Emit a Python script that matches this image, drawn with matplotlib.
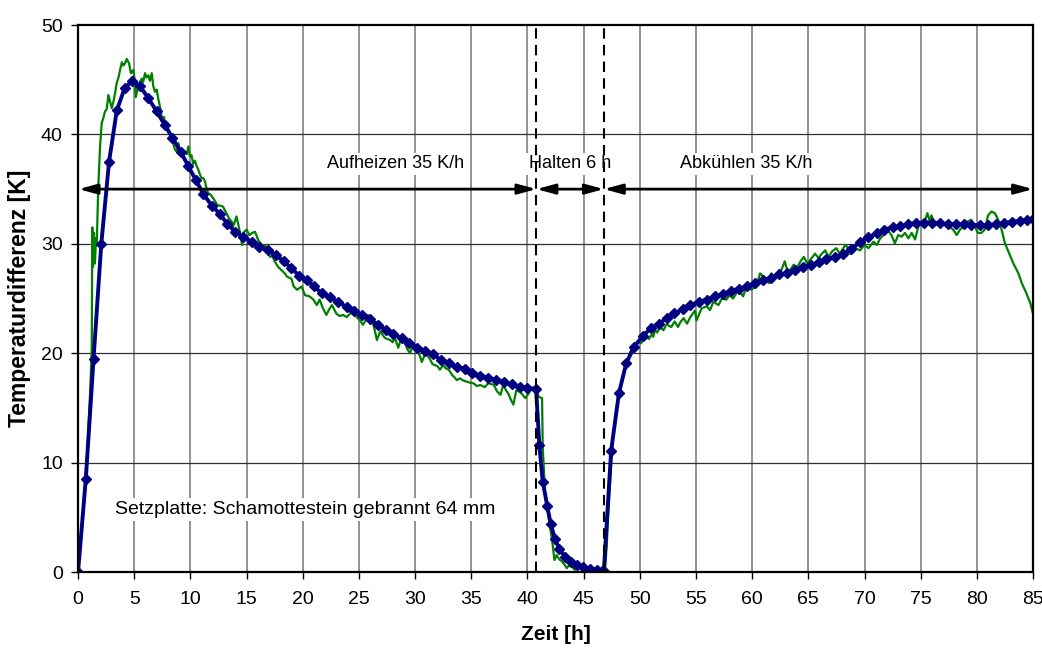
import matplotlib
matplotlib.use("Agg")
import matplotlib.pyplot as plt

plt.rcParams['font.family'] = ['Liberation Sans', 'DejaVu Sans']

# Phase boundaries [h] and the label row height [K]
t_hold_start = 40.8
t_hold_end = 46.8
phase_y = 35

x_ticks = [0, 5, 10, 15, 20, 25, 30, 35, 40, 45, 50, 55, 60, 65, 70, 75, 80, 85]
y_ticks = [0, 10, 20, 30, 40, 50]

# Calculated temperature difference (t [h], dT [K])
calc_heating = [
    (0, 0), (0.69, 8.5), (1.38, 19.5), (2.07, 30.0), (2.76, 37.5), (3.45, 42.2),
    (4.14, 44.2), (4.84, 44.9), (5.52, 44.4), (6.26, 43.3), (7.0, 42.1), (7.7, 40.9),
    (8.4, 39.7), (9.14, 38.4), (9.82, 37.1), (10.5, 35.8), (11.15, 34.55), (11.9, 33.5),
    (12.64, 32.7), (13.3, 31.8), (14.0, 31.1), (14.7, 30.6), (15.46, 30.2), (16.14, 29.7),
    (16.88, 29.4), (17.6, 29.0), (18.3, 28.4), (18.96, 27.8), (19.67, 27.1), (20.35, 26.7),
    (21.0, 26.1), (21.7, 25.5), (22.43, 25.1), (23.17, 24.65), (23.9, 24.25), (24.6, 23.86),
    (25.3, 23.5), (26.0, 23.1), (26.7, 22.6), (27.4, 22.1), (28.06, 21.8), (28.8, 21.35),
    (29.5, 20.96), (30.2, 20.5), (30.9, 20.2), (31.57, 19.9), (32.3, 19.4), (33.0, 19.07),
    (33.7, 18.77), (34.4, 18.55), (35.1, 18.2), (35.8, 17.94), (36.5, 17.76), (37.2, 17.55),
    (37.9, 17.34), (38.6, 17.16), (39.3, 16.94), (40.0, 16.85), (40.77, 16.7),
]
calc_holding = [
    (41.06, 11.6), (41.36, 8.25), (41.77, 6.0), (42.07, 4.4), (42.46, 3.0), (42.84, 2.1),
    (43.35, 1.4), (43.85, 0.94), (44.4, 0.64), (44.97, 0.43), (45.57, 0.27), (46.17, 0.18),
    (46.6, 0.12), (46.8, 0.1),
]
calc_cooling = [
    (47.45, 11.1), (48.15, 16.4), (48.8, 19.1), (49.5, 20.6), (50.26, 21.57), (50.97, 22.27),
    (51.7, 22.7), (52.4, 23.2), (53.07, 23.65), (53.8, 24.0), (54.5, 24.4), (55.27, 24.7),
    (55.96, 24.9), (56.7, 25.2), (57.4, 25.4), (58.1, 25.7), (58.86, 25.9), (59.5, 26.1),
    (60.26, 26.4), (61.0, 26.7), (61.7, 26.9), (62.4, 27.2), (63.1, 27.3), (63.8, 27.6),
    (64.5, 27.85), (65.2, 28.06), (65.95, 28.3), (66.6, 28.6), (67.4, 28.8), (68.06, 29.04),
    (68.8, 29.5), (69.6, 30.15), (70.35, 30.6), (71.1, 30.96), (71.77, 31.3), (72.5, 31.5),
    (73.2, 31.6), (73.9, 31.8), (74.6, 31.9), (75.3, 31.94), (76.0, 31.94), (76.7, 31.9),
    (77.4, 31.8), (78.1, 31.8), (78.86, 31.8), (79.5, 31.7), (80.3, 31.7), (81.0, 31.7),
    (81.7, 31.8), (82.4, 31.9), (83.1, 32.0), (83.8, 32.1), (84.5, 32.2), (85.0, 32.25),
]

# Measured temperature difference (t [h], dT [K])
meas_heating = [
    (0, 0), (0.4, 4.5), (0.8, 10.5), (1.1, 17.0), (1.22, 20.5), (1.27, 31.5), (1.33, 27.9),
    (1.42, 31.0), (1.5, 28.2), (1.6, 30.5), (1.66, 29.8), (1.8, 35.2), (1.96, 38.9),
    (2.1, 41.0), (2.25, 41.5), (2.4, 42.1), (2.55, 42.3), (2.7, 43.6), (2.85, 43.0),
    (3.0, 42.4), (3.15, 43.0), (3.3, 43.8), (3.44, 44.7), (3.6, 45.2), (3.74, 45.9),
    (3.9, 46.6), (4.05, 46.3), (4.18, 46.5), (4.33, 46.9), (4.54, 46.5), (4.7, 45.6),
    (4.92, 45.9), (5.05, 44.9), (5.13, 43.4), (5.37, 44.4), (5.52, 44.8), (5.67, 45.1),
    (5.8, 44.8), (5.96, 45.6), (6.1, 45.2), (6.26, 45.4), (6.4, 44.9), (6.56, 45.6),
    (6.7, 44.4), (6.85, 43.9), (7.0, 44.1), (7.15, 43.2), (7.3, 42.5), (7.5, 41.3),
    (7.65, 41.6), (7.8, 40.7), (8.0, 40.5), (8.2, 40.1), (8.4, 39.4), (8.63, 38.6),
    (8.8, 38.4), (8.93, 39.2), (9.08, 38.5), (9.23, 38.7), (9.38, 38.0), (9.52, 38.4),
    (9.68, 38.2), (9.82, 38.9), (9.95, 38.0), (10.1, 38.1), (10.25, 37.3), (10.4, 37.6),
    (10.56, 37.1), (10.7, 36.8), (10.86, 36.3), (11.0, 36.0), (11.15, 36.0), (11.3, 35.7),
    (11.45, 35.0), (11.6, 34.6), (11.8, 34.5), (12.0, 34.2), (12.2, 33.9), (12.4, 33.5),
    (12.64, 33.5), (12.9, 33.4), (13.05, 33.1), (13.2, 32.8), (13.45, 32.3), (13.7, 32.0),
    (13.8, 31.6), (13.95, 32.0), (14.1, 32.5), (14.3, 31.6), (14.45, 30.8), (14.6, 29.9),
    (14.7, 31.0), (15.0, 31.3), (15.25, 30.8), (15.5, 31.0), (15.75, 31.1), (16.05, 30.3),
    (16.3, 30.0), (16.5, 29.7), (16.7, 29.9), (16.85, 29.2), (17.1, 28.8), (17.3, 28.9),
    (17.5, 28.4), (17.8, 27.9), (18.1, 27.6), (18.4, 27.3), (18.6, 27.0), (19.0, 26.8),
    (19.2, 26.1), (19.5, 25.8), (19.9, 26.1), (20.2, 25.3), (20.6, 25.2), (20.95, 24.9),
    (21.25, 24.4), (21.5, 24.9), (21.8, 24.1), (22.1, 23.5), (22.35, 24.0), (22.6, 24.4),
    (23.0, 23.6), (23.3, 23.4), (23.6, 23.5), (23.9, 23.3), (24.2, 23.6), (24.5, 24.1),
    (24.8, 23.3), (25.1, 23.0), (25.35, 22.6), (25.55, 22.9), (25.8, 23.5), (26.05, 22.9),
    (26.3, 22.6), (26.6, 21.2), (26.9, 22.0), (27.1, 21.7), (27.3, 21.4), (27.55, 21.3),
    (27.8, 21.2), (28.0, 21.0), (28.2, 21.4), (28.5, 20.5), (28.8, 21.5), (29.1, 20.9),
    (29.3, 20.4), (29.55, 20.0), (29.85, 20.9), (30.05, 20.5), (30.3, 20.1), (30.6, 19.2),
    (30.9, 20.0), (31.1, 19.8), (31.3, 19.5), (31.55, 19.0), (31.8, 18.9), (32.0, 18.8),
    (32.2, 18.5), (32.5, 18.9), (32.75, 18.6), (33.0, 18.5), (33.3, 18.0), (33.5, 17.8),
    (33.7, 17.55), (34.0, 17.7), (34.3, 17.5), (34.6, 17.4), (34.9, 17.3), (35.2, 17.25),
    (35.5, 17.0), (35.8, 17.1), (36.0, 17.0), (36.2, 16.9), (36.5, 17.25), (36.75, 17.2),
    (37.0, 17.1), (37.3, 16.5), (37.6, 16.2), (37.85, 17.1), (38.1, 16.6), (38.3, 16.3),
    (38.5, 15.8), (38.75, 15.3), (39.0, 16.6), (39.25, 16.5), (39.5, 16.3), (39.8, 15.9),
    (40.1, 16.3), (40.4, 16.8), (40.7, 16.9), (41.0, 16.0), (41.3, 15.9),
]
meas_holding = [
    (41.36, 11.45), (41.57, 7.2), (41.72, 6.0), (41.87, 5.05), (42.05, 3.8), (42.2, 2.9),
    (42.4, 1.1), (42.6, 1.55), (42.75, 1.3), (42.9, 1.1), (43.05, 1.0), (43.2, 0.8),
    (43.35, 0.6), (43.5, 0.35), (43.7, 0.6), (43.95, 0.5), (44.2, 0.2), (44.45, 0.45),
    (44.7, 0.35), (45.0, 0.15), (45.3, 0.2), (45.6, 0.1), (45.9, 0.05), (46.2, 0.15),
    (46.5, 0.05), (46.9, 0.2),
]
meas_cooling = [
    (47.05, 2.3), (47.2, 5.5), (47.35, 8.1), (47.5, 10.6), (47.65, 12.7), (47.8, 14.0),
    (47.95, 15.1), (48.15, 16.2), (48.4, 17.25), (48.5, 18.0), (48.7, 18.6), (49.0, 19.4),
    (49.1, 20.0), (49.4, 20.6), (49.65, 20.7), (49.9, 21.05), (50.1, 20.9), (50.3, 21.2),
    (50.6, 21.5), (50.8, 21.3), (51.05, 21.7), (51.2, 21.5), (51.35, 22.1), (51.55, 21.9),
    (51.8, 22.4), (52.1, 22.1), (52.4, 22.7), (52.6, 22.5), (52.8, 22.4), (53.1, 22.9),
    (53.4, 22.4), (53.65, 22.9), (53.9, 23.2), (54.2, 22.7), (54.5, 23.3), (54.9, 23.9),
    (55.05, 23.0), (55.3, 23.6), (55.5, 24.1), (55.95, 24.3), (56.25, 23.95), (56.55, 24.7),
    (57.0, 24.4), (57.3, 25.0), (57.7, 24.9), (58.0, 25.3), (58.3, 25.0), (58.6, 25.5),
    (58.9, 25.6), (59.2, 25.2), (59.5, 26.1), (59.95, 25.8), (60.4, 26.2), (60.7, 27.3),
    (61.0, 27.0), (61.25, 26.7), (61.5, 26.4), (61.7, 27.3), (61.95, 27.0), (62.2, 27.0),
    (62.6, 27.6), (62.9, 28.4), (63.2, 27.3), (63.7, 28.1), (64.0, 27.8), (64.3, 28.4),
    (64.6, 28.8), (64.9, 28.2), (65.3, 28.7), (65.6, 29.1), (65.9, 28.7), (66.2, 29.1),
    (66.5, 29.4), (66.8, 28.8), (67.1, 29.3), (67.5, 29.6), (67.8, 29.1), (68.3, 29.9),
    (68.55, 29.6), (68.7, 29.1), (69.0, 29.7), (69.2, 29.6), (69.6, 29.4), (70.0, 29.9),
    (70.35, 29.6), (70.8, 30.2), (71.1, 29.9), (71.4, 30.5), (71.7, 30.8), (72.0, 31.3),
    (72.4, 30.8), (72.7, 30.05), (73.0, 30.8), (73.3, 30.65), (73.6, 31.0), (73.9, 30.5),
    (74.2, 31.0), (74.5, 30.4), (74.8, 31.6), (75.1, 32.05), (75.4, 32.2), (75.6, 32.8),
    (75.8, 32.05), (75.95, 32.6), (76.3, 31.7), (76.6, 32.05), (77.0, 31.9), (77.5, 31.6),
    (77.9, 31.3), (78.2, 30.8), (78.5, 31.3), (78.8, 31.6), (79.2, 32.05), (79.5, 32.2),
    (79.8, 31.6), (80.1, 31.0), (80.4, 31.0), (80.7, 31.3), (81.0, 32.6), (81.3, 32.95),
    (81.6, 32.8), (81.9, 32.2), (82.2, 31.3), (82.5, 30.05), (82.8, 29.3), (83.25, 28.2),
    (83.7, 27.3), (84.0, 26.4), (84.4, 25.5), (84.75, 24.6), (85.0, 23.6),
]

calc = calc_heating + calc_holding + calc_cooling
meas = meas_heating + meas_holding + meas_cooling
calc_t, calc_y = zip(*calc)
meas_t, meas_y = zip(*meas)

fig = plt.figure(figsize=(10.42, 6.53), dpi=100)
ax = fig.add_axes([0.0749, 0.124, 0.9165, 0.8377])

ax.set_xlim(0, 85)
ax.set_ylim(0, 50)
ax.set_xticks(x_ticks)
ax.set_yticks(y_ticks)
ax.tick_params(direction='out', length=5, width=1.0, labelsize=14)
ax.tick_params(axis='x', pad=9)
ax.tick_params(axis='y', pad=6)
for s in ax.spines.values():
    s.set_linewidth(1.6)
    s.set_zorder(6)

# grid: vertical every 5 h, horizontal every 10 K
for x in x_ticks[1:-1]:
    ax.axvline(x, color='#808080', lw=1.2, zorder=1)
for y in y_ticks[1:-1]:
    ax.axhline(y, color='#303030', lw=0.9, zorder=1)

ax.plot(meas_t, meas_y, color='#008000', lw=1.6, zorder=3)
ax.plot(calc_t, calc_y, color='#000080', lw=2.8, marker='D', markersize=5,
        zorder=4)

# phase boundaries
for x in (t_hold_start, t_hold_end):
    ax.plot([x, x], [0, 50], color='black', lw=1.5, ls=(0, (5, 3)), zorder=5)

# phase arrows
arrow_kw = dict(arrowstyle='<|-|>,head_length=0.55,head_width=0.15', lw=2,
                color='black', mutation_scale=20, shrinkA=0, shrinkB=0)
for a, b in ((0.05, t_hold_start), (t_hold_start, t_hold_end), (t_hold_end, 85)):
    ax.annotate('', xy=(a, phase_y), xytext=(b, phase_y), arrowprops=arrow_kw,
                zorder=5)

box = dict(facecolor='white', edgecolor='none', pad=2)
ax.text(28.3, 37.3, 'Aufheizen 35 K/h', ha='center', va='center', fontsize=13,
        bbox=box, zorder=2)
ax.text(43.8, 37.3, 'Halten 6 h', ha='center', va='center', fontsize=13,
        bbox=box, zorder=2)
ax.text(59.5, 37.3, 'Abkühlen 35 K/h', ha='center', va='center', fontsize=13,
        bbox=box, zorder=2)
ax.text(3.3, 5.7, 'Setzplatte: Schamottestein gebrannt 64 mm', ha='left',
        va='center', fontsize=14, bbox=box, zorder=2)

ax.set_xlabel('Zeit [h]', fontsize=15, fontweight='bold', labelpad=12)
ax.set_ylabel('Temperaturdifferenz [K]', fontsize=16.5, fontweight='bold', labelpad=7)

fig.savefig('out.png', dpi=100)
